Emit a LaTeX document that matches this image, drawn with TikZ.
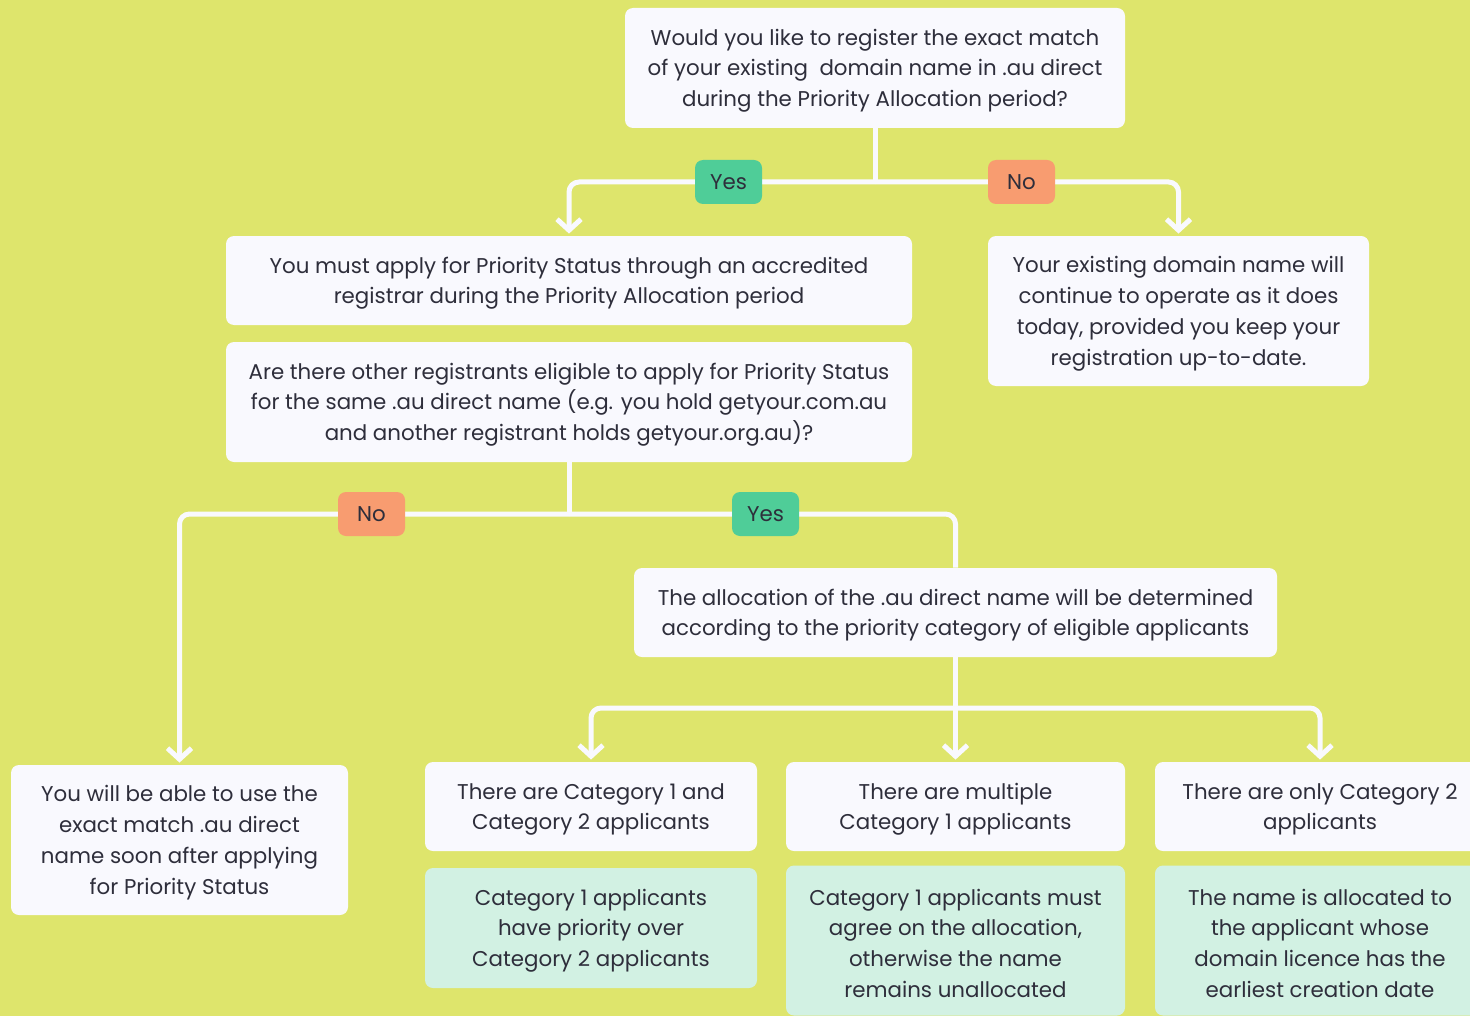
\documentclass[tikz,border=0pt]{standalone}
\usepackage{fontspec}
\setmainfont{Poppins}
\usetikzlibrary{arrows.meta}
\definecolor{bgc}{HTML}{DEE56C}
\definecolor{boxc}{HTML}{F9F9FE}
\definecolor{yesc}{HTML}{4FCD98}
\definecolor{noc}{HTML}{F89C70}
\definecolor{mintc}{HTML}{D2F1E3}
\definecolor{txtc}{HTML}{2E2E3B}
\newcommand\topstrut{\rule{0pt}{10.8pt}}
\tikzset{
  box/.style={fill=boxc, rounded corners=4pt, align=center, text=txtc, inner sep=0pt,
    font=\fontsize{10.68}{15.4}\selectfont},
  mint/.style={box, fill=mintc},
  lbl/.style={rounded corners=4pt, align=center, text=txtc, inner sep=0pt,
    minimum width=33.5pt, minimum height=22pt, font=\fontsize{10.68}{15.4}\selectfont},
  yeslbl/.style={lbl, fill=yesc},
  nolbl/.style={lbl, fill=noc},
  conn/.style={draw=boxc, line width=2.5pt, rounded corners=5pt},
  arr/.style={conn, -{Straight Barb[length=5.5pt,width=12pt,line width=2.5pt]}, shorten >=1pt},
}
\begin{document}
\begin{tikzpicture}[x=0.5pt,y=-0.5pt]
\fill[bgc] (0,0) rectangle (1470,1016);
\useasboundingbox (0,0) rectangle (1470,1016);
% main boxes
\node[box, minimum width=250pt, minimum height=60pt] (top) at (875,68)
  {\topstrut Would you like to register the exact match\\of your existing\ \ domain name in .au direct\\during the Priority Allocation period?};
\node[box, minimum width=343pt, minimum height=44.5pt] (apply) at (569,280.5)
  {\topstrut You must apply for Priority Status through an accredited\\registrar during the Priority Allocation period};
\node[box, minimum width=190.5pt, minimum height=75pt] (existing) at (1178.5,311)
  {\topstrut Your existing domain name will\\continue to operate as it does\\today, provided you keep your\\registration up-to-date.};
\node[box, minimum width=343pt, minimum height=60pt] (other) at (569,402)
  {\topstrut Are there other registrants eligible to apply for Priority Status\\for the same .au direct name (e.g. you hold getyour.com.au\\and another registrant holds getyour.org.au)?};
\node[box, minimum width=321.5pt, minimum height=44.5pt] (alloc) at (955.5,612.5)
  {\topstrut The allocation of the .au direct name will be determined\\according to the priority category of eligible applicants};
\node[box, minimum width=168.5pt, minimum height=75pt] (able) at (179.5,840)
  {\topstrut You will be able to use the\\exact match .au direct\\name soon after applying\\for Priority Status};
\node[box, minimum width=166pt, minimum height=44.5pt] (cat12) at (591,806.5)
  {\topstrut There are Category 1 and\\Category 2 applicants};
\node[box, minimum width=169.5pt, minimum height=44.5pt] (multi) at (955.5,806.5)
  {\topstrut There are multiple\\Category 1 applicants};
\node[box, minimum width=165pt, minimum height=44.5pt] (only2) at (1320,806.5)
  {\topstrut There are only Category 2\\applicants};
\node[mint, minimum width=166pt, minimum height=60pt] (res1) at (591,928)
  {\topstrut Category 1 applicants\\have priority over\\Category 2 applicants};
\node[mint, minimum width=169.5pt, minimum height=75pt] (res2) at (955.5,940.5)
  {\topstrut Category 1 applicants must\\agree on the allocation,\\otherwise the name\\remains unallocated};
\node[mint, minimum width=165pt, minimum height=75pt] (res3) at (1320,940.5)
  {\topstrut The name is allocated to\\the applicant whose\\domain licence has the\\earliest creation date};
% junctions
\coordinate (j1) at (875,182);
\coordinate (j2) at (569,514);
\coordinate (j3) at (955.5,708);
% connectors
\draw[conn] (top.south) -- (j1);
\draw[arr] (j1) -| (apply.north);
\draw[arr] (j1) -| (existing.north);
\draw[conn] (other.south) -- (j2);
\draw[arr] (j2) -| (able.north);
\draw[conn] (j2) -| (alloc.north);
\draw[arr] (alloc.south) -- (multi.north);
\draw[arr] (j3) -| (cat12.north);
\draw[arr] (j3) -| (only2.north);
% labels
\node[yeslbl] (yes1) at (728.5,182) {Yes};
\node[nolbl] (no1) at (1021.5,182) {No};
\node[nolbl] (no2) at (371.5,514) {No};
\node[yeslbl] (yes2) at (765.5,514) {Yes};
\end{tikzpicture}
\end{document}
